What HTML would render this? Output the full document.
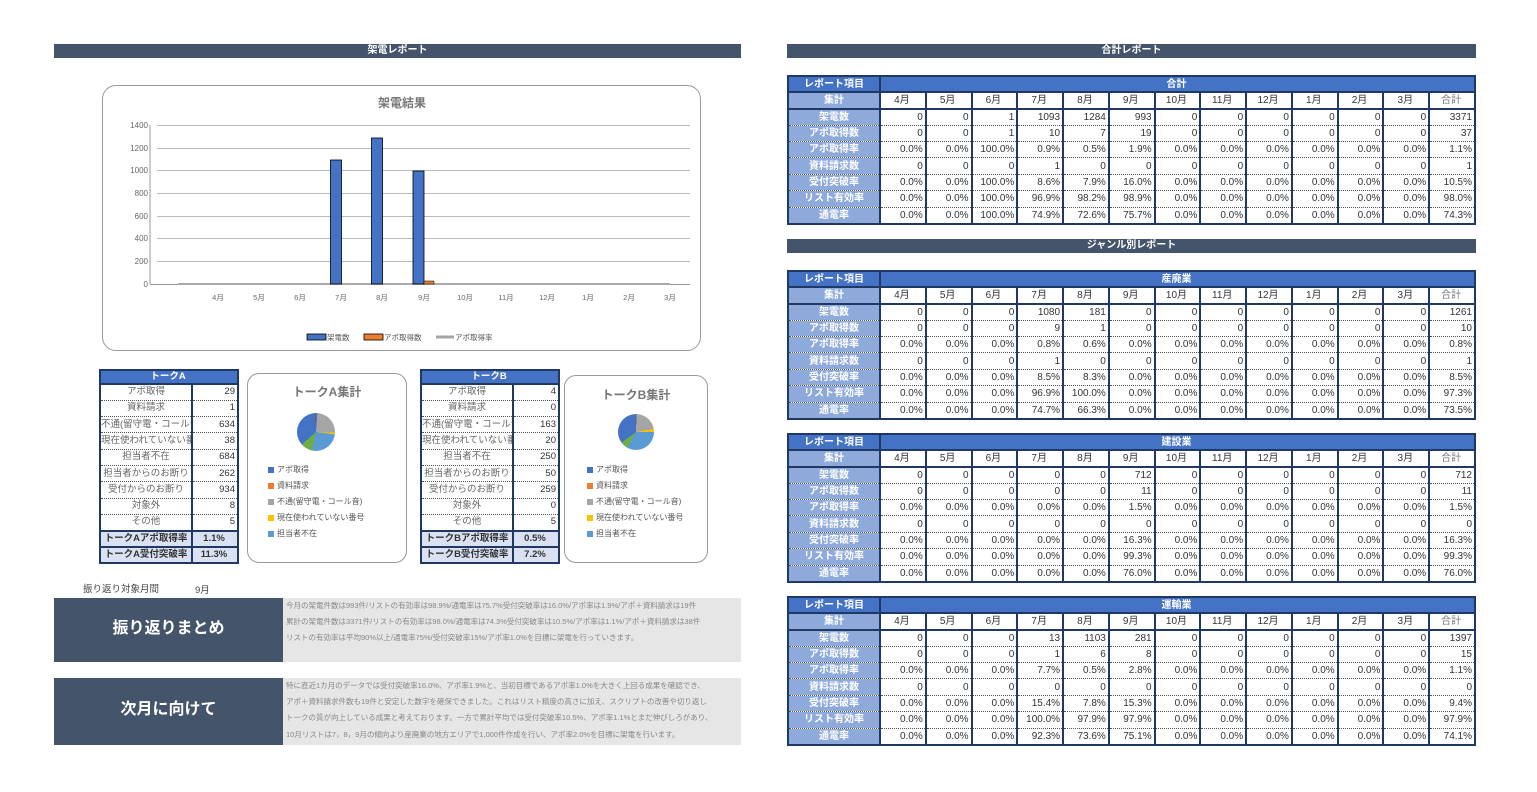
<!DOCTYPE html>
<html><head><meta charset="utf-8"><style>
*{margin:0;padding:0;box-sizing:border-box}
body{width:1537px;height:792px;background:#fff;position:relative;overflow:hidden;font-family:"Liberation Sans","Noto Sans CJK JP",sans-serif;color:#333}
.a{position:absolute}
.bar{position:absolute;background:#44546a;color:#fff;font-size:10px;font-weight:bold;text-align:center;line-height:14px;height:14px}
table.r{position:absolute;left:787px;width:689px;height:148px;border-collapse:collapse;table-layout:fixed;font-size:10px}
table.r td{border-left:2px solid #1f3864;border-right:1px solid #aab;border-bottom:1px dotted #555;text-align:right;padding-right:2px;height:16.4px;line-height:13px;white-space:nowrap;overflow:hidden}
table.r td:first-child{background:#8eaadb;color:#fff;font-weight:bold;text-align:center;border-right:2px solid #1f3864;padding:0}
table.r tr.h td{background:#4472c4;color:#fff;font-weight:bold;text-align:center;border:2px solid #1f3864}
table.r tr.m td{text-align:center;border-bottom:2px solid #1f3864}
table.r tr.m td:first-child{text-align:center}
table.r tr:last-child td{border-bottom:2px solid #1f3864}
table.r td:last-child{border-right:2px solid #1f3864}
table.t{position:absolute;width:138px;height:195px;border-collapse:collapse;table-layout:fixed;font-size:9.5px}
table.t td{border-left:2px solid #1f3864;border-right:2px solid #1f3864;border-bottom:1px dotted #555;height:16.3px;line-height:12px;white-space:nowrap;overflow:hidden;color:#666}
table.t td:first-child{text-align:center}
table.t td:last-child{text-align:right;padding-right:2px;color:#333}
table.t tr.h td{background:#4472c4;color:#fff;font-weight:bold;text-align:center;border:2px solid #1f3864;height:14px}
table.t tr.s td{background:#d9e1f2;color:#333;font-weight:bold;border:2px solid #1f3864;text-align:center}
.box{position:absolute;border:1.5px solid #999;border-radius:12px;background:#fff}
.lg{position:absolute;font-size:8px;color:#555;white-space:nowrap}
.lg i{display:inline-block;width:6px;height:6px;margin-right:3px;vertical-align:middle}
.dk{position:absolute;background:#44546a;color:#fff;font-weight:bold;font-size:16px;text-align:center}
.gr{position:absolute;background:#e7e6e6;color:#888;font-size:7.5px;line-height:16.2px;padding-left:3px;white-space:nowrap}
</style></head><body>

<div class="bar" style="left:54px;top:44px;width:687px">架電レポート</div>
<div class="bar" style="left:787px;top:44px;width:689px">合計レポート</div>
<div class="bar" style="left:787px;top:239px;width:689px">ジャンル別レポート</div>

<!-- chart -->
<div class="box" style="left:102px;top:85px;width:599px;height:266px;border-radius:14px"></div>
<svg class="a" style="left:0;top:0" width="760" height="360">
<text x="402" y="107" font-size="12" fill="#777" text-anchor="middle" font-family="Liberation Sans,Noto Sans CJK JP,sans-serif" font-weight="bold">架電結果</text>
<g stroke="#bbb" stroke-width="1">
<line x1="157" x2="690" y1="125.5" y2="125.5"/><line x1="157" x2="690" y1="148.5" y2="148.5"/><line x1="157" x2="690" y1="170.5" y2="170.5"/><line x1="157" x2="690" y1="193.5" y2="193.5"/><line x1="157" x2="690" y1="216.5" y2="216.5"/><line x1="157" x2="690" y1="238.5" y2="238.5"/><line x1="157" x2="690" y1="261.5" y2="261.5"/><line x1="150" x2="690" y1="284.5" y2="284.5" stroke="#999"/><line x1="150" x2="150" y1="125" y2="284" stroke="#999"/></g>
<g font-size="8" fill="#666" text-anchor="end" font-family="Liberation Sans,sans-serif">
<text x="148" y="128">1400</text><text x="148" y="151">1200</text><text x="148" y="173">1000</text><text x="148" y="196">800</text><text x="148" y="219">600</text><text x="148" y="241">400</text><text x="148" y="264">200</text><text x="148" y="287">0</text></g>
<g font-size="7.5" fill="#666" text-anchor="middle" font-family="Liberation Sans,Noto Sans CJK JP,sans-serif">
<text x="218" y="300">4月</text><text x="259" y="300">5月</text><text x="300" y="300">6月</text><text x="341" y="300">7月</text><text x="382" y="300">8月</text><text x="424" y="300">9月</text><text x="465" y="300">10月</text><text x="506" y="300">11月</text><text x="547" y="300">12月</text><text x="588" y="300">1月</text><text x="629" y="300">2月</text><text x="670" y="300">3月</text></g>
<line x1="178" x2="670" y1="284" y2="284" stroke="#aaa" stroke-width="2"/>
<g fill="#4472c4" stroke="#000" stroke-width="0.8">
<rect x="330.5" y="160" width="11" height="124"/><rect x="371.5" y="138" width="11" height="146"/><rect x="413" y="171" width="11" height="113"/></g>
<rect x="424" y="281" width="10" height="3" fill="#ed7d31" stroke="#000" stroke-width="0.5"/>
<rect x="307" y="334" width="19" height="6" fill="#4472c4" stroke="#000" stroke-width="0.8"/>
<rect x="364" y="334" width="19" height="6" fill="#ed7d31" stroke="#000" stroke-width="0.8"/>
<line x1="436" x2="454" y1="337" y2="337" stroke="#a5a5a5" stroke-width="3"/>
<g font-size="7.5" fill="#555" font-family="Liberation Sans,Noto Sans CJK JP,sans-serif">
<text x="327" y="340">架電数</text><text x="384" y="340">アポ取得数</text><text x="455" y="340">アポ取得率</text></g>
</svg>

<!-- talk A -->
<table class="t" style="left:99px;top:369px">
<colgroup><col style="width:92px"><col style="width:46px"></colgroup>
<tr class="h"><td colspan="2">トークA</td></tr>
<tr><td>アポ取得</td><td>29</td></tr>
<tr><td>資料請求</td><td>1</td></tr>
<tr><td>不通(留守電・コール音</td><td>634</td></tr>
<tr><td>現在使われていない番号</td><td>38</td></tr>
<tr><td>担当者不在</td><td>684</td></tr>
<tr><td>担当者からのお断り</td><td>262</td></tr>
<tr><td>受付からのお断り</td><td>934</td></tr>
<tr><td>対象外</td><td>8</td></tr>
<tr><td>その他</td><td>5</td></tr>
<tr class="s"><td>トークAアポ取得率</td><td style="text-align:center">1.1%</td></tr>
<tr class="s"><td>トークA受付突破率</td><td style="text-align:center">11.3%</td></tr>
</table>
<div class="box" style="left:247px;top:373px;width:160px;height:190px"></div>
<div class="a" style="left:247px;top:383px;width:160px;text-align:center;font-size:12px;font-weight:bold;color:#777">トークA集計</div>
<div class="a" style="left:297px;top:413px;width:38px;height:38px;border-radius:50%;background:conic-gradient(#4472c4 0 1.12%,#ed7d31 0 1.16%,#a5a5a5 0 25.59%,#ffc000 0 27.05%,#5b9bd5 0 53.41%,#70ad47 0 63.51%,#4472c4 0 99.5%,#9e480e 0 99.8%,#636363 0)"></div>
<div class="lg" style="left:268px;top:464px"><i style="background:#4472c4"></i>アポ取得</div>
<div class="lg" style="left:268px;top:480px"><i style="background:#ed7d31"></i>資料請求</div>
<div class="lg" style="left:268px;top:496px"><i style="background:#a5a5a5"></i>不通(留守電・コール音)</div>
<div class="lg" style="left:268px;top:512px"><i style="background:#ffc000"></i>現在使われていない番号</div>
<div class="lg" style="left:268px;top:528px"><i style="background:#5b9bd5"></i>担当者不在</div>

<!-- talk B -->
<table class="t" style="left:420px;top:369px">
<colgroup><col style="width:92px"><col style="width:46px"></colgroup>
<tr class="h"><td colspan="2">トークB</td></tr>
<tr><td>アポ取得</td><td>4</td></tr>
<tr><td>資料請求</td><td>0</td></tr>
<tr><td>不通(留守電・コール音</td><td>163</td></tr>
<tr><td>現在使われていない番号</td><td>20</td></tr>
<tr><td>担当者不在</td><td>250</td></tr>
<tr><td>担当者からのお断り</td><td>50</td></tr>
<tr><td>受付からのお断り</td><td>259</td></tr>
<tr><td>対象外</td><td>0</td></tr>
<tr><td>その他</td><td>5</td></tr>
<tr class="s"><td>トークBアポ取得率</td><td style="text-align:center">0.5%</td></tr>
<tr class="s"><td>トークB受付突破率</td><td style="text-align:center">7.2%</td></tr>
</table>
<div class="box" style="left:564px;top:375px;width:144px;height:188px"></div>
<div class="a" style="left:564px;top:386px;width:144px;text-align:center;font-size:12px;font-weight:bold;color:#777">トークB集計</div>
<div class="a" style="left:618px;top:414px;width:36px;height:36px;border-radius:50%;background:conic-gradient(#4472c4 0 0.53%,#a5a5a5 0 22.24%,#ffc000 0 24.9%,#5b9bd5 0 58.19%,#70ad47 0 64.85%,#4472c4 0 99.33%,#636363 0)"></div>
<div class="lg" style="left:587px;top:464px"><i style="background:#4472c4"></i>アポ取得</div>
<div class="lg" style="left:587px;top:480px"><i style="background:#ed7d31"></i>資料請求</div>
<div class="lg" style="left:587px;top:496px"><i style="background:#a5a5a5"></i>不通(留守電・コール音)</div>
<div class="lg" style="left:587px;top:512px"><i style="background:#ffc000"></i>現在使われていない番号</div>
<div class="lg" style="left:587px;top:528px"><i style="background:#5b9bd5"></i>担当者不在</div>

<div class="a" style="left:83px;top:581px;font-size:9.5px;color:#444">振り返り対象月間</div>
<div class="a" style="left:195px;top:582px;font-size:9.5px;color:#444">9月</div>

<div class="dk" style="left:54px;top:598px;width:229px;height:64px;line-height:62px">振り返りまとめ</div>
<div class="gr" style="left:283px;top:598px;width:458px;height:64px">今月の架電件数は993件/リストの有効率は98.9%/通電率は75.7%受付突破率は16.0%/アポ率は1.9%/アポ＋資料請求は19件<br>累計の架電件数は3371件/リストの有効率は98.0%/通電率は74.3%受付突破率は10.5%/アポ率は1.1%/アポ＋資料請求は38件<br>リストの有効率は平均90%以上/通電率75%/受付突破率15%/アポ率1.0%を目標に架電を行っていきます。</div>

<div class="dk" style="left:54px;top:678px;width:229px;height:67px;line-height:64px">次月に向けて</div>
<div class="gr" style="left:283px;top:678px;width:458px;height:67px">特に直近1カ月のデータでは受付突破率16.0%、アポ率1.9%と、当初目標であるアポ率1.0%を大きく上回る成果を確認でき、<br>アポ＋資料請求件数も19件と安定した数字を確保できました。これはリスト精度の高さに加え、スクリプトの改善や切り返し<br>トークの質が向上している成果と考えております。一方で累計平均では受付突破率10.5%、アポ率1.1%とまだ伸びしろがあり、<br>10月リストは7，8，9月の傾向より産廃業の地方エリアで1,000件作成を行い、アポ率2.0%を目標に架電を行います。</div>

<!-- right tables -->
<table class="r" style="top:75px">
<colgroup><col style="width:92px"><col span="13"></colgroup>
<tr class="h"><td>レポート項目</td><td colspan="13">合計</td></tr>
<tr class="m"><td>集計</td><td>4月</td><td>5月</td><td>6月</td><td>7月</td><td>8月</td><td>9月</td><td>10月</td><td>11月</td><td>12月</td><td>1月</td><td>2月</td><td>3月</td><td style="color:#777">合計</td></tr>
<tr><td>架電数</td><td>0</td><td>0</td><td>1</td><td>1093</td><td>1284</td><td>993</td><td>0</td><td>0</td><td>0</td><td>0</td><td>0</td><td>0</td><td>3371</td></tr>
<tr><td>アポ取得数</td><td>0</td><td>0</td><td>1</td><td>10</td><td>7</td><td>19</td><td>0</td><td>0</td><td>0</td><td>0</td><td>0</td><td>0</td><td>37</td></tr>
<tr><td>アポ取得率</td><td>0.0%</td><td>0.0%</td><td>100.0%</td><td>0.9%</td><td>0.5%</td><td>1.9%</td><td>0.0%</td><td>0.0%</td><td>0.0%</td><td>0.0%</td><td>0.0%</td><td>0.0%</td><td>1.1%</td></tr>
<tr><td>資料請求数</td><td>0</td><td>0</td><td>0</td><td>1</td><td>0</td><td>0</td><td>0</td><td>0</td><td>0</td><td>0</td><td>0</td><td>0</td><td>1</td></tr>
<tr><td>受付突破率</td><td>0.0%</td><td>0.0%</td><td>100.0%</td><td>8.6%</td><td>7.9%</td><td>16.0%</td><td>0.0%</td><td>0.0%</td><td>0.0%</td><td>0.0%</td><td>0.0%</td><td>0.0%</td><td>10.5%</td></tr>
<tr><td>リスト有効率</td><td>0.0%</td><td>0.0%</td><td>100.0%</td><td>96.9%</td><td>98.2%</td><td>98.9%</td><td>0.0%</td><td>0.0%</td><td>0.0%</td><td>0.0%</td><td>0.0%</td><td>0.0%</td><td>98.0%</td></tr>
<tr><td>通電率</td><td>0.0%</td><td>0.0%</td><td>100.0%</td><td>74.9%</td><td>72.6%</td><td>75.7%</td><td>0.0%</td><td>0.0%</td><td>0.0%</td><td>0.0%</td><td>0.0%</td><td>0.0%</td><td>74.3%</td></tr>
</table>

<table class="r" style="top:270px">
<colgroup><col style="width:92px"><col span="13"></colgroup>
<tr class="h"><td>レポート項目</td><td colspan="13">産廃業</td></tr>
<tr class="m"><td>集計</td><td>4月</td><td>5月</td><td>6月</td><td>7月</td><td>8月</td><td>9月</td><td>10月</td><td>11月</td><td>12月</td><td>1月</td><td>2月</td><td>3月</td><td style="color:#777">合計</td></tr>
<tr><td>架電数</td><td>0</td><td>0</td><td>0</td><td>1080</td><td>181</td><td>0</td><td>0</td><td>0</td><td>0</td><td>0</td><td>0</td><td>0</td><td>1261</td></tr>
<tr><td>アポ取得数</td><td>0</td><td>0</td><td>0</td><td>9</td><td>1</td><td>0</td><td>0</td><td>0</td><td>0</td><td>0</td><td>0</td><td>0</td><td>10</td></tr>
<tr><td>アポ取得率</td><td>0.0%</td><td>0.0%</td><td>0.0%</td><td>0.8%</td><td>0.6%</td><td>0.0%</td><td>0.0%</td><td>0.0%</td><td>0.0%</td><td>0.0%</td><td>0.0%</td><td>0.0%</td><td>0.8%</td></tr>
<tr><td>資料請求数</td><td>0</td><td>0</td><td>0</td><td>1</td><td>0</td><td>0</td><td>0</td><td>0</td><td>0</td><td>0</td><td>0</td><td>0</td><td>1</td></tr>
<tr><td>受付突破率</td><td>0.0%</td><td>0.0%</td><td>0.0%</td><td>8.5%</td><td>8.3%</td><td>0.0%</td><td>0.0%</td><td>0.0%</td><td>0.0%</td><td>0.0%</td><td>0.0%</td><td>0.0%</td><td>8.5%</td></tr>
<tr><td>リスト有効率</td><td>0.0%</td><td>0.0%</td><td>0.0%</td><td>96.9%</td><td>100.0%</td><td>0.0%</td><td>0.0%</td><td>0.0%</td><td>0.0%</td><td>0.0%</td><td>0.0%</td><td>0.0%</td><td>97.3%</td></tr>
<tr><td>通電率</td><td>0.0%</td><td>0.0%</td><td>0.0%</td><td>74.7%</td><td>66.3%</td><td>0.0%</td><td>0.0%</td><td>0.0%</td><td>0.0%</td><td>0.0%</td><td>0.0%</td><td>0.0%</td><td>73.5%</td></tr>
</table>

<table class="r" style="top:433px">
<colgroup><col style="width:92px"><col span="13"></colgroup>
<tr class="h"><td>レポート項目</td><td colspan="13">建設業</td></tr>
<tr class="m"><td>集計</td><td>4月</td><td>5月</td><td>6月</td><td>7月</td><td>8月</td><td>9月</td><td>10月</td><td>11月</td><td>12月</td><td>1月</td><td>2月</td><td>3月</td><td style="color:#777">合計</td></tr>
<tr><td>架電数</td><td>0</td><td>0</td><td>0</td><td>0</td><td>0</td><td>712</td><td>0</td><td>0</td><td>0</td><td>0</td><td>0</td><td>0</td><td>712</td></tr>
<tr><td>アポ取得数</td><td>0</td><td>0</td><td>0</td><td>0</td><td>0</td><td>11</td><td>0</td><td>0</td><td>0</td><td>0</td><td>0</td><td>0</td><td>11</td></tr>
<tr><td>アポ取得率</td><td>0.0%</td><td>0.0%</td><td>0.0%</td><td>0.0%</td><td>0.0%</td><td>1.5%</td><td>0.0%</td><td>0.0%</td><td>0.0%</td><td>0.0%</td><td>0.0%</td><td>0.0%</td><td>1.5%</td></tr>
<tr><td>資料請求数</td><td>0</td><td>0</td><td>0</td><td>0</td><td>0</td><td>0</td><td>0</td><td>0</td><td>0</td><td>0</td><td>0</td><td>0</td><td>0</td></tr>
<tr><td>受付突破率</td><td>0.0%</td><td>0.0%</td><td>0.0%</td><td>0.0%</td><td>0.0%</td><td>16.3%</td><td>0.0%</td><td>0.0%</td><td>0.0%</td><td>0.0%</td><td>0.0%</td><td>0.0%</td><td>16.3%</td></tr>
<tr><td>リスト有効率</td><td>0.0%</td><td>0.0%</td><td>0.0%</td><td>0.0%</td><td>0.0%</td><td>99.3%</td><td>0.0%</td><td>0.0%</td><td>0.0%</td><td>0.0%</td><td>0.0%</td><td>0.0%</td><td>99.3%</td></tr>
<tr><td>通電率</td><td>0.0%</td><td>0.0%</td><td>0.0%</td><td>0.0%</td><td>0.0%</td><td>76.0%</td><td>0.0%</td><td>0.0%</td><td>0.0%</td><td>0.0%</td><td>0.0%</td><td>0.0%</td><td>76.0%</td></tr>
</table>

<table class="r" style="top:596px">
<colgroup><col style="width:92px"><col span="13"></colgroup>
<tr class="h"><td>レポート項目</td><td colspan="13">運輸業</td></tr>
<tr class="m"><td>集計</td><td>4月</td><td>5月</td><td>6月</td><td>7月</td><td>8月</td><td>9月</td><td>10月</td><td>11月</td><td>12月</td><td>1月</td><td>2月</td><td>3月</td><td style="color:#777">合計</td></tr>
<tr><td>架電数</td><td>0</td><td>0</td><td>0</td><td>13</td><td>1103</td><td>281</td><td>0</td><td>0</td><td>0</td><td>0</td><td>0</td><td>0</td><td>1397</td></tr>
<tr><td>アポ取得数</td><td>0</td><td>0</td><td>0</td><td>1</td><td>6</td><td>8</td><td>0</td><td>0</td><td>0</td><td>0</td><td>0</td><td>0</td><td>15</td></tr>
<tr><td>アポ取得率</td><td>0.0%</td><td>0.0%</td><td>0.0%</td><td>7.7%</td><td>0.5%</td><td>2.8%</td><td>0.0%</td><td>0.0%</td><td>0.0%</td><td>0.0%</td><td>0.0%</td><td>0.0%</td><td>1.1%</td></tr>
<tr><td>資料請求数</td><td>0</td><td>0</td><td>0</td><td>0</td><td>0</td><td>0</td><td>0</td><td>0</td><td>0</td><td>0</td><td>0</td><td>0</td><td>0</td></tr>
<tr><td>受付突破率</td><td>0.0%</td><td>0.0%</td><td>0.0%</td><td>15.4%</td><td>7.8%</td><td>15.3%</td><td>0.0%</td><td>0.0%</td><td>0.0%</td><td>0.0%</td><td>0.0%</td><td>0.0%</td><td>9.4%</td></tr>
<tr><td>リスト有効率</td><td>0.0%</td><td>0.0%</td><td>0.0%</td><td>100.0%</td><td>97.9%</td><td>97.9%</td><td>0.0%</td><td>0.0%</td><td>0.0%</td><td>0.0%</td><td>0.0%</td><td>0.0%</td><td>97.9%</td></tr>
<tr><td>通電率</td><td>0.0%</td><td>0.0%</td><td>0.0%</td><td>92.3%</td><td>73.6%</td><td>75.1%</td><td>0.0%</td><td>0.0%</td><td>0.0%</td><td>0.0%</td><td>0.0%</td><td>0.0%</td><td>74.1%</td></tr>
</table>
</body></html>
